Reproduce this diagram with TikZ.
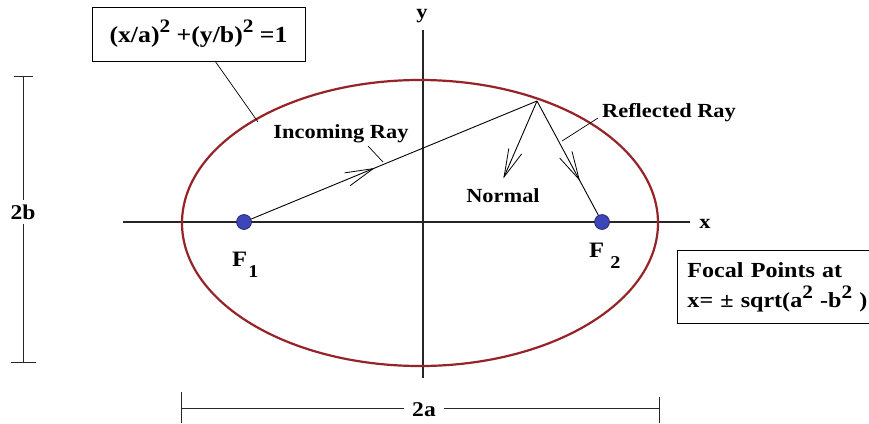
\documentclass[tikz,border=0pt]{standalone}
\usepackage{fontspec}
\setmainfont{Liberation Serif}[FakeStretch=1.12]
\usetikzlibrary{decorations.markings}
\definecolor{ellred}{RGB}{150,35,40}
\definecolor{dotblue}{RGB}{60,70,185}
\definecolor{dotedge}{RGB}{30,30,90}
\newcommand{\supnum}[2]{\raisebox{#2}{\fontsize{#1}{#1}\selectfont 2}}
\tikzset{
  lbl/.style={font=\bfseries\fontsize{20}{22}\selectfont, inner sep=0pt},
  axisline/.style={line width=1.2pt, draw=black!85},
  rayline/.style={line width=0.9pt},
  leader/.style={line width=0.7pt},
  vmark/.style={postaction={decorate}, decoration={markings, mark=at position #1 with {\draw[line width=0.8pt] (-28pt,7pt) -- (0pt,0pt) -- (-28pt,-7pt);}}},
  focus/.style={circle, fill=dotblue, draw=dotedge, line width=0.6pt, minimum size=15pt, inner sep=0pt},
  dimline/.style={line width=1pt, draw=black!85},
  boxed/.style={draw, line width=0.9pt},
}
\begin{document}
\begin{tikzpicture}[x=1pt,y=-1pt]
\useasboundingbox (0,0) rectangle (869,423);
\clip (0,0) rectangle (869,423);
\fill[white] (0,0) rectangle (869,423);

% axes
\coordinate (xl) at (123,222);
\coordinate (xr) at (690,222);
\coordinate (yt) at (423,30);
\coordinate (yb) at (423,378);
\draw[axisline] (xl) -- (xr);
\draw[axisline] (yt) -- (yb);
\node[lbl, anchor=base] (ylab) at (422,18) {y};
\node[lbl, anchor=base] (xlab) at (705,228) {x};

% ellipse
\draw[ellred, line width=2.2pt] (420,223) ellipse [x radius=238, y radius=143];

% rays
\coordinate (P) at (537,101);
\coordinate (Nend) at (504,177);
\node[focus] (F1) at (244,222) {};
\node[focus] (F2) at (602,222) {};
\draw[rayline, vmark=132pt] (F1) -- (P);
\draw[rayline, vmark=-0.2pt] (P) -- (Nend);
\draw[rayline, vmark=89pt] (P) -- (F2);

% labels
\node[lbl, anchor=base] (inc) at (341,138) {Incoming Ray};
\node[lbl, anchor=base] (refl) at (669,117) {Reflected Ray};
\node[lbl, anchor=base] (norm) at (503,202) {Normal};
\coordinate (incA) at (368,146);
\coordinate (incB) at (383,162);
\draw[leader] (incA) -- (incB);
\coordinate (refA) at (598,118);
\coordinate (refB) at (562,141);
\draw[leader] (refA) -- (refB);

\node[lbl, anchor=base west, font=\bfseries\fontsize{22}{22}\selectfont] (F1lab) at (232,266) {F\hspace{1pt}\raisebox{-11pt}{\fontsize{18}{18}\selectfont 1}};
\node[lbl, anchor=base west, font=\bfseries\fontsize{22}{22}\selectfont] (F2lab) at (589,257) {F\hspace{6pt}\raisebox{-11pt}{\fontsize{18}{18}\selectfont 2}};

% equation box
\node[boxed, minimum width=213pt, minimum height=54pt, inner sep=0pt,
      font=\bfseries\fontsize{23}{24}\selectfont] (eq) at (198.5,34)
  {(x/a)\supnum{19}{10pt} +(y/b)\supnum{19}{10pt} =1};
\coordinate (eqB) at (258,122);
\draw[leader] (215,61) -- (eqB);

% focal box
\node[boxed, anchor=north west, minimum width=210pt, minimum height=73pt,
      inner xsep=10pt, inner ysep=0pt, text width=190pt, align=left,
      font=\bfseries\fontsize{21.5}{30}\selectfont] (foc) at (677,250)
  {Focal Points at\\x= ± sqrt(a\supnum{19}{9pt} -b\supnum{19}{9pt} )};

% 2b dimension
\node[lbl, font=\bfseries\fontsize{21}{22}\selectfont, inner ysep=4pt] (b2) at (23,212) {2b};
\coordinate (bt) at (23,76);
\coordinate (bb) at (23,362);
\draw[dimline] (bt) -- (b2.north);
\draw[dimline] (b2.south) -- (bb);
\draw[dimline] (14,76) -- (33,76);
\draw[dimline] (11,362) -- (36,362);

% 2a dimension
\node[lbl, font=\bfseries\fontsize{21}{22}\selectfont, inner xsep=8pt] (a2) at (424,410) {2a};
\coordinate (al) at (181,408);
\coordinate (ar) at (659,408);
\draw[dimline] (al) -- (a2.west |- al);
\draw[dimline] (a2.east |- ar) -- (ar);
\draw[dimline] (181,392) -- (181,423);
\draw[dimline] (659,397) -- (659,423);
\end{tikzpicture}
\end{document}
